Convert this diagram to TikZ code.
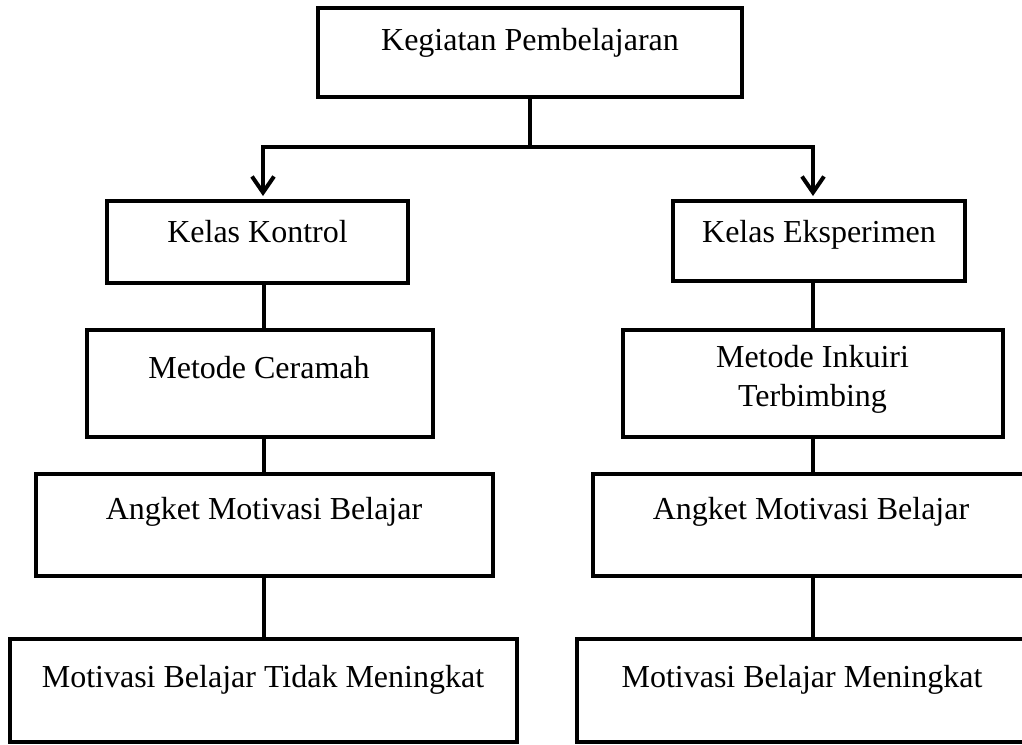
\documentclass[tikz,border=0pt]{standalone}
\usepackage{fontspec}
\setmainfont{Liberation Serif}
\usetikzlibrary{arrows.meta,calc}
\tikzset{
  box/.style={draw=black, line width=4pt, rectangle, inner sep=0pt, fill=white},
  lbl/.style={anchor=base, inner sep=0pt, font=\fontsize{32}{39}\selectfont},
  conn/.style={draw=black, line width=4pt},
  arr/.style={conn, -{Straight Barb[length=16pt,width=22pt]}},
}
\begin{document}
\begin{tikzpicture}[x=1pt,y=-1pt]
\useasboundingbox (0,0) rectangle (1022,744);
\clip (0,0) rectangle (1022,744);
% boxes
\node[box, minimum width=424pt, minimum height=89pt] (top) at (530,52.5) {};
\node[box, minimum width=301pt, minimum height=82pt] (kk) at (257.5,242) {};
\node[box, minimum width=292pt, minimum height=80pt] (ke) at (819,241) {};
\node[box, minimum width=346pt, minimum height=107pt] (mc) at (260,383.5) {};
\node[box, minimum width=380pt, minimum height=107pt] (mi) at (813,383.5) {};
\node[box, minimum width=457pt, minimum height=102pt] (al) at (264.5,525) {};
\node[box, minimum width=450pt, minimum height=102pt] (ar) at (818,525) {};
\node[box, minimum width=507pt, minimum height=103pt] (bl) at (263.5,690.5) {};
\node[box, minimum width=470pt, minimum height=103pt] (br) at (812,690.5) {};
% texts
\node[lbl] (ttop) at (530,50) {Kegiatan Pembelajaran};
\node[lbl] (tkk) at (257.5,242) {Kelas Kontrol};
\node[lbl] (tke) at (819,242) {Kelas Eksperimen};
\node[lbl] (tmc) at (259,378) {Metode Ceramah};
\node[lbl, align=center, anchor=north] (tmi) at (812.5,345) {Metode Inkuiri\\Terbimbing};
\node[lbl] (tal) at (264,519) {Angket Motivasi Belajar};
\node[lbl] (tar) at (811,519) {Angket Motivasi Belajar};
\node[lbl] (tbl) at (263,687) {Motivasi Belajar Tidak Meningkat};
\node[lbl] (tbr) at (802,687) {Motivasi Belajar Meningkat};
% connectors
\coordinate (jl) at (263,147);
\coordinate (jr) at (813,147);
\coordinate (colL) at (264,0);
\coordinate (colR) at (813,0);
\draw[conn] (top.south) -- (top.south |- jl);
\draw[conn, line cap=rect] (jl) -- (jr);
\draw[arr] (jl) -- ($(jl |- kk.north)+(0,-3)$);
\draw[arr] (jr) -- ($(jr |- ke.north)+(0,-3)$);
\draw[conn] (kk.south -| colL) -- (mc.north -| colL);
\draw[conn] (mc.south -| colL) -- (al.north -| colL);
\draw[conn] (al.south -| colL) -- (bl.north -| colL);
\draw[conn] (ke.south -| colR) -- (mi.north -| colR);
\draw[conn] (mi.south -| colR) -- (ar.north -| colR);
\draw[conn] (ar.south -| colR) -- (br.north -| colR);
\end{tikzpicture}
\end{document}
